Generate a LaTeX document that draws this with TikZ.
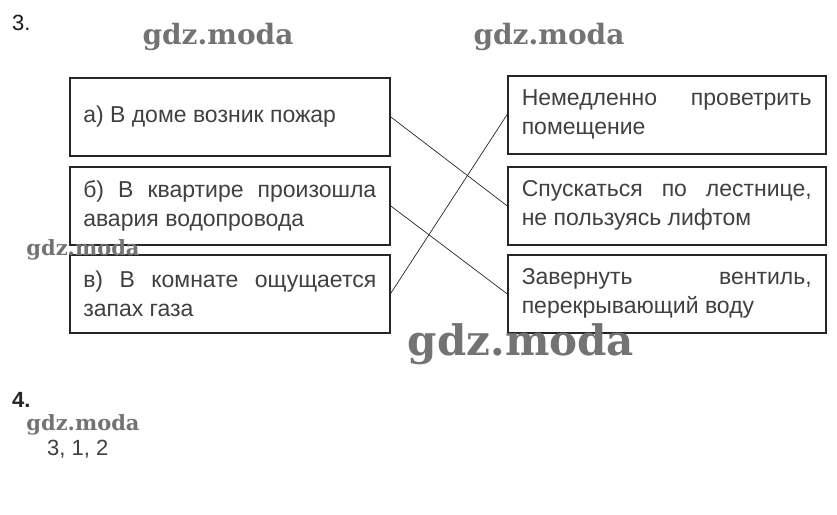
\documentclass[tikz,border=0pt]{standalone}
\usepackage{fontspec}
\setmainfont{Liberation Sans}
\newfontfamily\wmfont{DejaVu Serif}
\begin{document}
\begin{tikzpicture}[x=1pt,y=-1pt,
  box/.style={draw=black!85, line width=1.5pt, anchor=north west,
    minimum height=78pt, inner ysep=0pt, align=justify,
    font=\fontsize{23}{29}\selectfont, text=black!75},
  lbox/.style={box, minimum width=320pt, text width=293pt, inner xsep=13.5pt},
  rbox/.style={box, minimum width=318pt, text width=290pt, inner xsep=14pt},
  conn/.style={draw=black!85, line width=0.7pt},
  wm/.style={font=\wmfont\bfseries, text=black!55, inner sep=0pt}]
\useasboundingbox (0,0) rectangle (837,514);
\node[anchor=north west, font=\fontsize{22}{25}\selectfont, text=black!90, inner sep=0pt] (n3) at (12,15) {3.};
\node[lbox] (a) at (69,77) {а) В доме возник пожар\raisebox{0pt}[0pt][3pt]{}};
\node[lbox] (b) at (69,166) {б) В квартире произошла\linebreak авария водопровода};
\node[lbox] (c) at (69,254) {в) В комнате ощущается\linebreak запах газа};
\node[rbox] (r1) at (507,75) {Немедленно проветрить\linebreak помещение};
\node[rbox] (r2) at (507,166) {Спускаться по лестнице,\linebreak не пользуясь лифтом};
\node[rbox] (r3) at (507,254) {Завернуть вентиль,\linebreak перекрывающий воду};
\draw[conn] (a.east) -- (r2.west);
\draw[conn] (b.east) -- (r3.west);
\draw[conn] (c.east) -- (r1.west);
\node[anchor=north west, font=\fontsize{22}{25}\selectfont\bfseries, text=black!85, inner sep=0pt] (n4) at (12,392) {4.};
\node[anchor=north west, font=\fontsize{22}{25}\selectfont, text=black!75, inner sep=0pt] (ans) at (47,440) {3, 1, 2};
\node[wm, font=\wmfont\bfseries\fontsize{28}{30}\selectfont] (w1) at (218,37) {gdz.moda};
\node[wm, font=\wmfont\bfseries\fontsize{28}{30}\selectfont] (w2) at (549,37) {gdz.moda};
\node[wm, font=\wmfont\bfseries\fontsize{21}{24}\selectfont] (w3) at (83,250) {gdz.moda};
\node[wm, font=\wmfont\bfseries\fontsize{42}{45}\selectfont] (w4) at (521,344) {gdz.moda};
\node[wm, font=\wmfont\bfseries\fontsize{21}{24}\selectfont] (w5) at (83,425) {gdz.moda};
\end{tikzpicture}
\end{document}
